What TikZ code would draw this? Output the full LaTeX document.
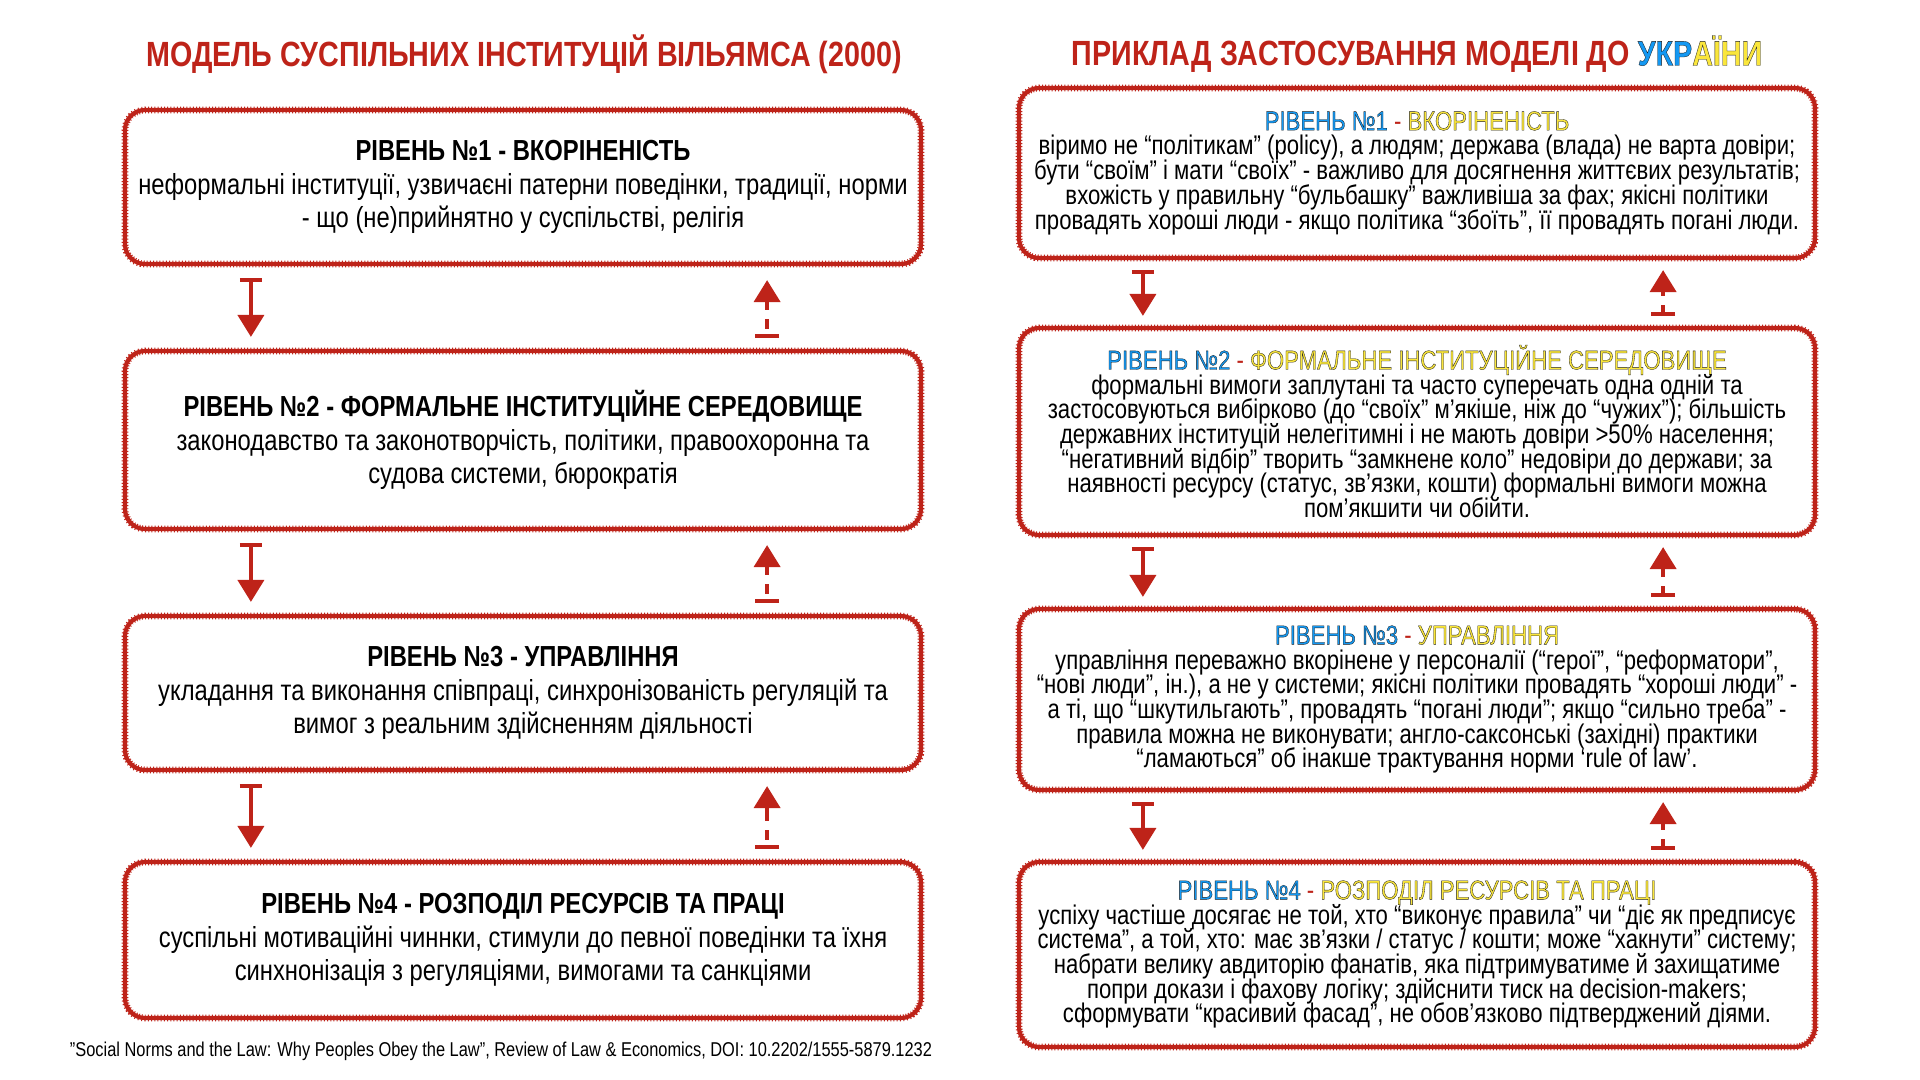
\documentclass[tikz,border=0pt]{standalone}
\usepackage{fontspec}
\setmainfont{Liberation Sans}[FakeStretch=0.82]
\usepackage{xcolor}
\usepackage{tikz}
\usetikzlibrary{arrows.meta,positioning}
\definecolor{brick}{RGB}{190,35,25}
\definecolor{sky}{RGB}{20,152,242}
\definecolor{wheat}{RGB}{250,230,60}
% outlined text: fill in #1, thin dark stroke
\newcommand{\Outl}[2]{{\color{#1}\special{pdf:literal direct 2 Tr 0.16 w 0.12 0.12 0.12 RG}#2\special{pdf:literal direct 0 Tr}}}
\newcommand{\Sky}[1]{\Outl{sky}{#1}}
\newcommand{\Wheat}[1]{\Outl{wheat}{#1}}
\newcommand{\Lvl}[2]{\Sky{РІВЕНЬ №#1} \textcolor{brick}{-} \Wheat{#2}}
\newcommand{\tightlines}{\lineskiplimit=-20pt\relax}

\begin{document}
\begin{tikzpicture}[x=0.5pt,y=-0.5pt,
  box/.style={draw=brick,line width=2.1pt,rounded corners=10pt,align=center,
              minimum width=398pt,inner sep=2pt,
              postaction={draw=brick,line width=3.4pt,dash pattern=on 0.5pt off 1.1pt}},
  lb/.style={box,font=\fontsize{14.5}{16.8}\selectfont},
  rb/.style={box,font=\fontsize{13.5}{12.35}\selectfont\tightlines},
  ttl/.style={font=\fontsize{17.5}{20}\selectfont\bfseries,text=brick},
  dn/.style={draw=brick,line width=2pt,
             arrows={Bar[width=11pt]-Triangle[width=13pt,length=11pt]},
             shorten <=6pt,shorten >=6pt},
  upl/.style={draw=brick,line width=2pt,
              arrows={Bar[width=12pt]-Triangle[width=13pt,length=11pt]},
              dash pattern=on 0pt off 3pt on 5pt off 4.5pt on 30pt,
              shorten <=5.5pt,shorten >=7pt},
  upr/.style={upl,dash pattern=on 4pt off 4.5pt on 30pt,
              shorten <=5pt,shorten >=5pt}]
\useasboundingbox[fill=white] (0,0) rectangle (1920,1080);

% titles
\node[ttl] (tmodel) at (524,54) {МОДЕЛЬ СУСПІЛЬНИХ ІНСТИТУЦІЙ ВІЛЬЯМСА (2000)};
\node[ttl] (tua) at (1417,54) {ПРИКЛАД ЗАСТОСУВАННЯ МОДЕЛІ ДО \Sky{УКР}\Wheat{АЇНИ}};

% Williamson levels
\node[lb,minimum height=77pt] (lvl1) at (523,187)
  {\textbf{РІВЕНЬ №1 - ВКОРІНЕНІСТЬ}\\
   неформальні інституції, узвичаєні патерни поведінки, традиції, норми\\
   - що (не)прийнятно у суспільстві, релігія};
\node[lb,minimum height=89pt] (lvl2) at (523,440)
  {\textbf{РІВЕНЬ №2 - ФОРМАЛЬНЕ ІНСТИТУЦІЙНЕ СЕРЕДОВИЩЕ}\\
   законодавство та законотворчість, політики, правоохоронна та\\
   судова системи, бюрократія};
\node[lb,minimum height=77pt] (lvl3) at (523,693)
  {\textbf{РІВЕНЬ №3 - УПРАВЛІННЯ}\\
   укладання та виконання співпраці, синхронізованість регуляцій та\\
   вимог з реальним здійсненням діяльності};
\node[lb,minimum height=78pt] (lvl4) at (523,940)
  {\textbf{РІВЕНЬ №4 - РОЗПОДІЛ РЕСУРСІВ ТА ПРАЦІ}\\
   суспільні мотиваційні чиннки, стимули до певної поведінки та їхня\\
   синхнонізація з регуляціями, вимогами та санкціями};

% Ukraine
\node[rb,minimum height=85pt] (ua1) at (1417,173)
  {\Lvl{1}{ВКОРІНЕНІСТЬ}\\
   віримо не “політикам” (policy), а людям; держава (влада) не варта довіри;\\
   бути “своїм” і мати “своїх” - важливо для досягнення життєвих результатів;\\
   вхожість у правильну “бульбашку” важливіша за фах; якісні політики\\
   провадять хороші люди - якщо політика “збоїть”, її провадять погані люди.};
\node[rb,minimum height=103.5pt] (ua2) at (1417,431.5)
  {\Lvl{2}{ФОРМАЛЬНЕ ІНСТИТУЦІЙНЕ СЕРЕДОВИЩЕ}\\
   формальні вимоги заплутані та часто суперечать одна одній та\\
   застосовуються вибірково (до “своїх” м’якіше, ніж до “чужих”); більшість\\
   державних інституцій нелегітимні і не мають довіри >50\% населення;\\
   “негативний відбір” творить “замкнене коло” недовіри до держави; за\\
   наявності ресурсу (статус, зв’язки, кошти) формальні вимоги можна\\
   пом’якшити чи обійти.};
\node[rb,minimum height=90.5pt] (ua3) at (1417,699.5)
  {\Lvl{3}{УПРАВЛІННЯ}\\
   управління переважно вкорінене у персоналії (“герої”, “реформатори”,\\
   “нові люди”, ін.), а не у системи; якісні політики провадять “хороші люди” -\\
   а ті, що “шкутильгають”, провадять “погані люди”; якщо “сильно треба” -\\
   правила можна не виконувати; англо-саксонські (західні) практики\\
   “ламаються” об інакше трактування норми ‘rule of law’.};
\node[rb,minimum height=92.5pt] (ua4) at (1417,954.5)
  {\Lvl{4}{РОЗПОДІЛ РЕСУРСІВ ТА ПРАЦІ}\\
   успіху частіше досягає не той, хто “виконує правила” чи “діє як предписує\\
   система”, а той, хто: має зв’язки / статус / кошти; може “хакнути” систему;\\
   набрати велику авдиторію фанатів, яка підтримуватиме й захищатиме\\
   попри докази і фахову логіку; здійснити тиск на decision-makers;\\
   сформувати “красивий фасад”, не обов’язково підтверджений діями.};

\node[font=\fontsize{10}{11}\selectfont] (src) at (501,1051)
  {"Social Norms and the Law: Why Peoples Obey the Law", Review of Law \& Economics, DOI: 10.2202/1555-5879.1232};

\draw[dn] ([xshift=64pt]lvl1.south west) -- ([xshift=64pt]lvl2.north west);
\draw[dn] ([xshift=64pt]lvl2.south west) -- ([xshift=64pt]lvl3.north west);
\draw[dn] ([xshift=64pt]lvl3.south west) -- ([xshift=64pt]lvl4.north west);
\draw[upl] ([xshift=-78pt]lvl2.north east) -- ([xshift=-78pt]lvl1.south east);
\draw[upl] ([xshift=-78pt]lvl3.north east) -- ([xshift=-78pt]lvl2.south east);
\draw[upl] ([xshift=-78pt]lvl4.north east) -- ([xshift=-78pt]lvl3.south east);

\draw[dn,shorten <=5pt,shorten >=5pt] ([xshift=63pt]ua1.south west) -- ([xshift=63pt]ua2.north west);
\draw[dn,shorten <=5pt,shorten >=5pt] ([xshift=63pt]ua2.south west) -- ([xshift=63pt]ua3.north west);
\draw[dn,shorten <=5pt,shorten >=5pt] ([xshift=63pt]ua3.south west) -- ([xshift=63pt]ua4.north west);
\draw[upr] ([xshift=-77pt]ua2.north east) -- ([xshift=-77pt]ua1.south east);
\draw[upr] ([xshift=-77pt]ua3.north east) -- ([xshift=-77pt]ua2.south east);
\draw[upr] ([xshift=-77pt]ua4.north east) -- ([xshift=-77pt]ua3.south east);
\end{tikzpicture}
\end{document}
